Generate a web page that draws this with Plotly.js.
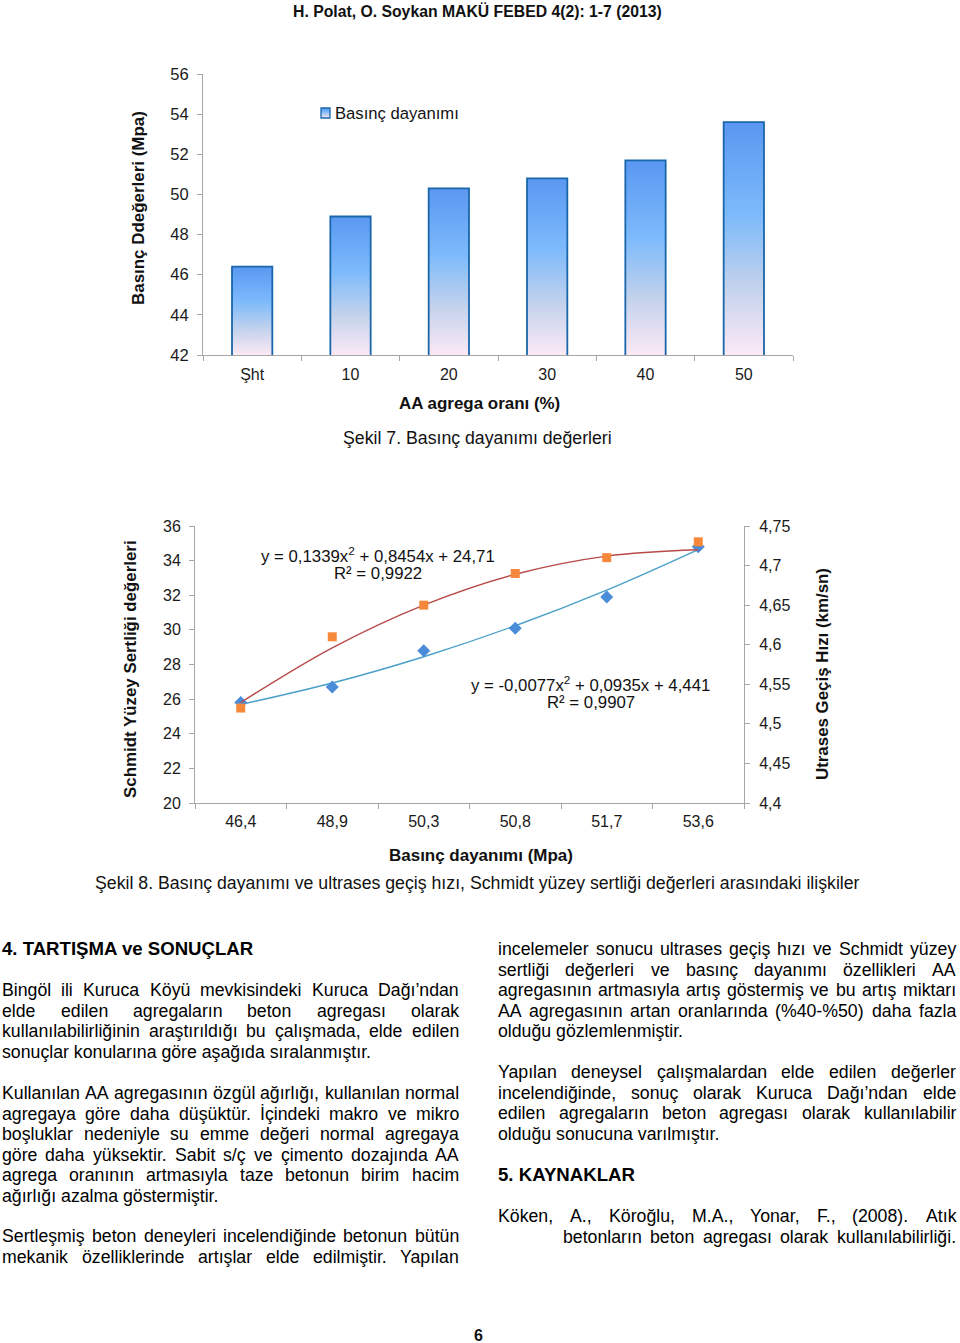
<!DOCTYPE html>
<html><head><meta charset="utf-8">
<script src="https://cdn.plot.ly/plotly-3.0.1.min.js"></script>
<style>html,body{margin:0;padding:0;background:#fff}#chart{width:960px;height:1343px}</style>
</head><body><div id="chart"></div>
<script>
const W = 960, H = 1343;
const FONT = '"Liberation Sans", Arial, sans-serif';

// ---------- Chart 1 data (Şekil 7) ----------
const aaCategories = ['Şht', '10', '20', '30', '40', '50'];
const basincDayanimi = [46.4, 48.9, 50.3, 50.8, 51.7, 53.6];
const chart1YTicks = [42, 44, 46, 48, 50, 52, 54, 56];
const chart1Legend = 'Basınç dayanımı';

// ---------- Chart 2 data (Şekil 8) ----------
const chart2Categories = basincDayanimi.map(v => v.toFixed(1).replace('.', ','));
const schmidt = [25.8, 26.7, 28.8, 30.1, 31.9, 34.8];
const ultrases = [4.52, 4.61, 4.65, 4.69, 4.71, 4.73];
const schmidtTrend = [25.69, 26.93, 28.45, 30.24, 32.30, 34.64];
const ultrasesTrend = [4.527, 4.596, 4.650, 4.689, 4.712, 4.720];
const leftTicks = [20, 22, 24, 26, 28, 30, 32, 34, 36];
const rightTickVals = [4.4, 4.45, 4.5, 4.55, 4.6, 4.65, 4.7, 4.75];
const rightTickText = ['4,4', '4,45', '4,5', '4,55', '4,6', '4,65', '4,7', '4,75'];
const eqSchmidt = ['y = 0,1339x<sup>2</sup> + 0,8454x + 24,71', 'R² = 0,9922'];
const eqUltrases = ['y = -0,0077x<sup>2</sup> + 0,0935x + 4,441', 'R² = 0,9907'];

// ---------- Page texts ----------
const headerText = 'H. Polat, O. Soykan MAKÜ FEBED 4(2): 1-7 (2013)';
const chart1XTitle = 'AA agrega oranı (%)';
const chart1YTitle = 'Basınç Ddeğerleri (Mpa)';
const caption7 = 'Şekil 7. Basınç dayanımı değerleri';
const chart2XTitle = 'Basınç dayanımı (Mpa)';
const chart2YTitle = 'Schmidt Yüzey Sertliği değerleri';
const chart2Y2Title = 'Utrases Geçiş Hızı (km/sn)';
const caption8 = 'Şekil 8. Basınç dayanımı ve ultrases geçiş hızı, Schmidt yüzey sertliği değerleri arasındaki ilişkiler';
const heading4 = '4. TARTIŞMA ve SONUÇLAR';
const heading5 = '5. KAYNAKLAR';
const para1 = ['Bingöl ili Kuruca Köyü mevkisindeki Kuruca Dağı’ndan',
  'elde edilen agregaların beton agregası olarak',
  'kullanılabilirliğinin araştırıldığı bu çalışmada, elde edilen',
  'sonuçlar konularına göre aşağıda sıralanmıştır.'];
const para2 = ['Kullanılan AA agregasının özgül ağırlığı, kullanılan normal',
  'agregaya göre daha düşüktür. İçindeki makro ve mikro',
  'boşluklar nedeniyle su emme değeri normal agregaya',
  'göre daha yüksektir. Sabit s/ç ve çimento dozajında AA',
  'agrega oranının artmasıyla taze betonun birim hacim',
  'ağırlığı azalma göstermiştir.'];
const para3 = ['Sertleşmiş beton deneyleri incelendiğinde betonun bütün',
  'mekanik özelliklerinde artışlar elde edilmiştir. Yapılan'];
const para4 = ['incelemeler sonucu ultrases geçiş hızı ve Schmidt yüzey',
  'sertliği değerleri ve basınç dayanımı özellikleri AA',
  'agregasının artmasıyla artış göstermiş ve bu artış miktarı',
  'AA agregasının artan oranlarında (%40-%50) daha fazla',
  'olduğu gözlemlenmiştir.'];
const para5 = ['Yapılan deneysel çalışmalardan elde edilen değerler',
  'incelendiğinde, sonuç olarak Kuruca Dağı’ndan elde',
  'edilen agregaların beton agregası olarak kullanılabilir',
  'olduğu sonucuna varılmıştır.'];
const ref1 = ['Köken, A., Köroğlu, M.A., Yonar, F., (2008). Atık',
  'betonların beton agregası olarak kullanılabilirliği.'];
const pageNumber = '6';

// ---------- helpers ----------
const px = x => x / W;
const py = y => 1 - y / H;
const ctx = document.createElement('canvas').getContext('2d');
function tw(text, size, bold) {
  ctx.font = (bold ? 'bold ' : '') + size + 'px "Liberation Sans"';
  return ctx.measureText(text).width;
}
function fit(text, width, bold) { return width * 100 / tw(text, 100, bold); }
const annotations = [];
function ann(text, x, y, size, opts) {
  annotations.push(Object.assign({
    text: text, x: px(x), y: py(y), xref: 'paper', yref: 'paper',
    xanchor: 'center', yanchor: 'middle', showarrow: false,
    font: {family: FONT, size: size, color: '#111'}
  }, opts || {}));
}

// header + captions
const headSize = fit(headerText, 369, true);
ann(headerText, 477.5, 11, headSize, {font: {family: FONT, size: headSize, color: '#111', weight: 'bold'}});
const bodySize = fit(caption8, 765, false);
ann(caption7, 477.5, 438, bodySize);
ann(caption8, 477.5, 883, bodySize);

// chart titles
function boldAnn(text, x, y, len, extra) {
  const s = fit(text, len, true);
  ann(text, x, y, s, Object.assign({font: {family: FONT, size: s, color: '#111', weight: 'bold'}}, extra || {}));
}
boldAnn(chart1XTitle, 479, 403, 162);
boldAnn(chart1YTitle, 138, 208, 194, {textangle: -90});
boldAnn(chart2XTitle, 481, 855, 184);
boldAnn(chart2YTitle, 130, 669, 258, {textangle: -90});
boldAnn(chart2Y2Title, 822, 674, 212, {textangle: -90});

// legend chart 1
const legendSize = fit(chart1Legend, 124, false);
ann(chart1Legend, 333, 113, legendSize, {xanchor: 'left'});

// equations
const EQ = 16.8;
ann(eqSchmidt[0], 377.5, 555, EQ);
ann(eqSchmidt[1], 378, 573, EQ);
ann(eqUltrases[0], 590, 684, EQ);
ann(eqUltrases[1], 591, 702, EQ);

// body text
function line(text, x0, x1, y, justify, isBold, size) {
  const words = text.split(/\s+/);
  const fnt = {family: FONT, size: size, color: '#000', weight: isBold ? 'bold' : 'normal'};
  if (!justify || words.length < 2) {
    ann(text, x0 - 1, y, size, {xanchor: 'left', font: fnt});
    return;
  }
  const widths = words.map(w => tw(w, size, isBold));
  const total = widths.reduce((a, b) => a + b, 0);
  const gap = (x1 - x0 - total) / (words.length - 1);
  let x = x0;
  words.forEach((w, i) => {
    ann(w, x - 1, y, size, {xanchor: 'left', font: fnt});
    x += widths[i] + gap;
  });
}
const PITCH = 20.5;
function para(lines, x0, x1, y0, justifyLast, firstIndentX) {
  lines.forEach((t, i) => {
    const last = i === lines.length - 1;
    const sx = (i > 0 && firstIndentX) ? firstIndentX : x0;
    line(t, sx, x1, y0 + i * PITCH, !last || justifyLast, false, bodySize);
  });
}
const L0 = 1, L1 = 458, R0 = 497, R1 = 955;
line(heading4, L0, L1, 949, false, true, fit(heading4, 252, true));
para(para1, L0, L1, 990, false);
para(para2, L0, L1, 1093, false);
para(para3, L0, L1, 1236, true);
para(para4, R0, R1, 949, false);
para(para5, R0, R1, 1072, false);
line(heading5, R0, R1, 1174, false, true, fit(heading5, 137, true));
para(ref1, R0, R1, 1216, true, 562);
ann(pageNumber, 478, 1335, 16, {font: {family: FONT, size: 16, color: '#111', weight: 'bold'}});

// ---------- traces ----------
const AX = '#A6A6A6';
const tickFont = {family: FONT, size: 16, color: '#1a1a1a'};
const data = [
  {type: 'bar', x: aaCategories, y: basincDayanimi, xaxis: 'x', yaxis: 'y', width: 0.41,
   marker: {color: '#7DB6F5', line: {color: '#1A66AA', width: 1.8}}, showlegend: false, hoverinfo: 'skip'},
  {type: 'scatter', mode: 'lines', x: chart2Categories, y: schmidtTrend, xaxis: 'x2', yaxis: 'y2',
   line: {color: '#4A9FC9', width: 1.4, shape: 'spline', smoothing: 1}, showlegend: false},
  {type: 'scatter', mode: 'lines', x: chart2Categories, y: ultrasesTrend, xaxis: 'x2', yaxis: 'y3',
   line: {color: '#B84A4A', width: 1.4, shape: 'spline', smoothing: 1}, showlegend: false},
  {type: 'scatter', mode: 'markers', x: chart2Categories, y: schmidt, xaxis: 'x2', yaxis: 'y2', cliponaxis: false,
   marker: {symbol: 'diamond', size: 10, color: '#4A8CD8'}, showlegend: false},
  {type: 'scatter', mode: 'markers', x: chart2Categories, y: ultrases, xaxis: 'x2', yaxis: 'y3', cliponaxis: false,
   marker: {symbol: 'square', size: 9, color: '#F5883A'}, showlegend: false}
];

const axBase = {showline: true, linecolor: AX, linewidth: 1, ticks: 'outside', ticklen: 5, tickcolor: AX,
  tickfont: tickFont, showgrid: false, zeroline: false, fixedrange: true};
const layout = {
  width: W, height: H, margin: {l: 0, r: 0, t: 0, b: 0}, paper_bgcolor: '#fff', plot_bgcolor: 'rgba(0,0,0,0)',
  showlegend: false, font: {family: FONT},
  xaxis: Object.assign({}, axBase, {domain: [px(203), px(793)], anchor: 'y', type: 'category', range: [-0.5, 5.5],
    tickson: 'boundaries', ticklabelstandoff: 5}),
  yaxis: Object.assign({}, axBase, {domain: [py(355), py(74)], anchor: 'x', range: [42, 56], tickvals: chart1YTicks,
    ticklabelstandoff: 5, tickfont: {family: FONT, size: 16.5, color: '#1a1a1a'}}),
  xaxis2: Object.assign({}, axBase, {domain: [px(195), px(744)], anchor: 'y2', type: 'category', range: [-0.5, 5.5],
    tickson: 'boundaries', ticklabelstandoff: 4}),
  yaxis2: Object.assign({}, axBase, {domain: [py(803), py(526)], anchor: 'x2', range: [20, 36], tickvals: leftTicks,
    ticklabelstandoff: 5}),
  yaxis3: Object.assign({}, axBase, {overlaying: 'y2', side: 'right', anchor: 'x2', range: [4.4, 4.75],
    tickvals: rightTickVals, ticktext: rightTickText, ticklabelstandoff: 6}),
  shapes: [{type: 'rect', xref: 'paper', yref: 'paper', x0: px(321), x1: px(330), y0: py(118), y1: py(108),
    fillcolor: '#7DB6F5', line: {color: '#1A66AA', width: 1.3}}],
  annotations: annotations
};

Plotly.newPlot('chart', data, layout, {staticPlot: true}).then(gd => {
  const ns = 'http://www.w3.org/2000/svg';
  const svg = gd.querySelector('svg.main-svg');
  let defs = svg.querySelector('defs');
  if (!defs) { defs = document.createElementNS(ns, 'defs'); svg.insertBefore(defs, svg.firstChild); }
  function makeGrad(id, y1, y2, user) {
    const g = document.createElementNS(ns, 'linearGradient');
    g.setAttribute('id', id);
    g.setAttribute('x1', '0'); g.setAttribute('x2', '0');
    g.setAttribute('y1', String(y1)); g.setAttribute('y2', String(y2));
    if (user) g.setAttribute('gradientUnits', 'userSpaceOnUse');
    [[0, '#5A98F2'], [0.4, '#7DBAFB'], [0.72, '#C5D3EC'], [1, '#FCE9F6']].forEach(s => {
      const st = document.createElementNS(ns, 'stop');
      st.setAttribute('offset', s[0]); st.setAttribute('stop-color', s[1]);
      g.appendChild(st);
    });
    defs.appendChild(g);
  }
  const ya = gd._fullLayout.yaxis;
  gd.querySelectorAll('.barlayer .point path').forEach((p, i) => {
    const nums = (p.getAttribute('d') || '').match(/-?\d+(\.\d+)?(e-?\d+)?/g) || [];
    const ys = [parseFloat(nums[1]), parseFloat(nums[2])];
    const top = Math.min(ys[0], ys[1]);
    const bot = Math.min(Math.max(ys[0], ys[1]), ya._length);
    makeGrad('barGrad' + i, top, bot, true);
    p.style.fill = 'url(#barGrad' + i + ')';
  });
  makeGrad('legGrad', 0, 1, false);
  gd.querySelectorAll('.shapelayer path').forEach(p => { p.style.fill = 'url(#legGrad)'; });
});
</script>
</body></html>
